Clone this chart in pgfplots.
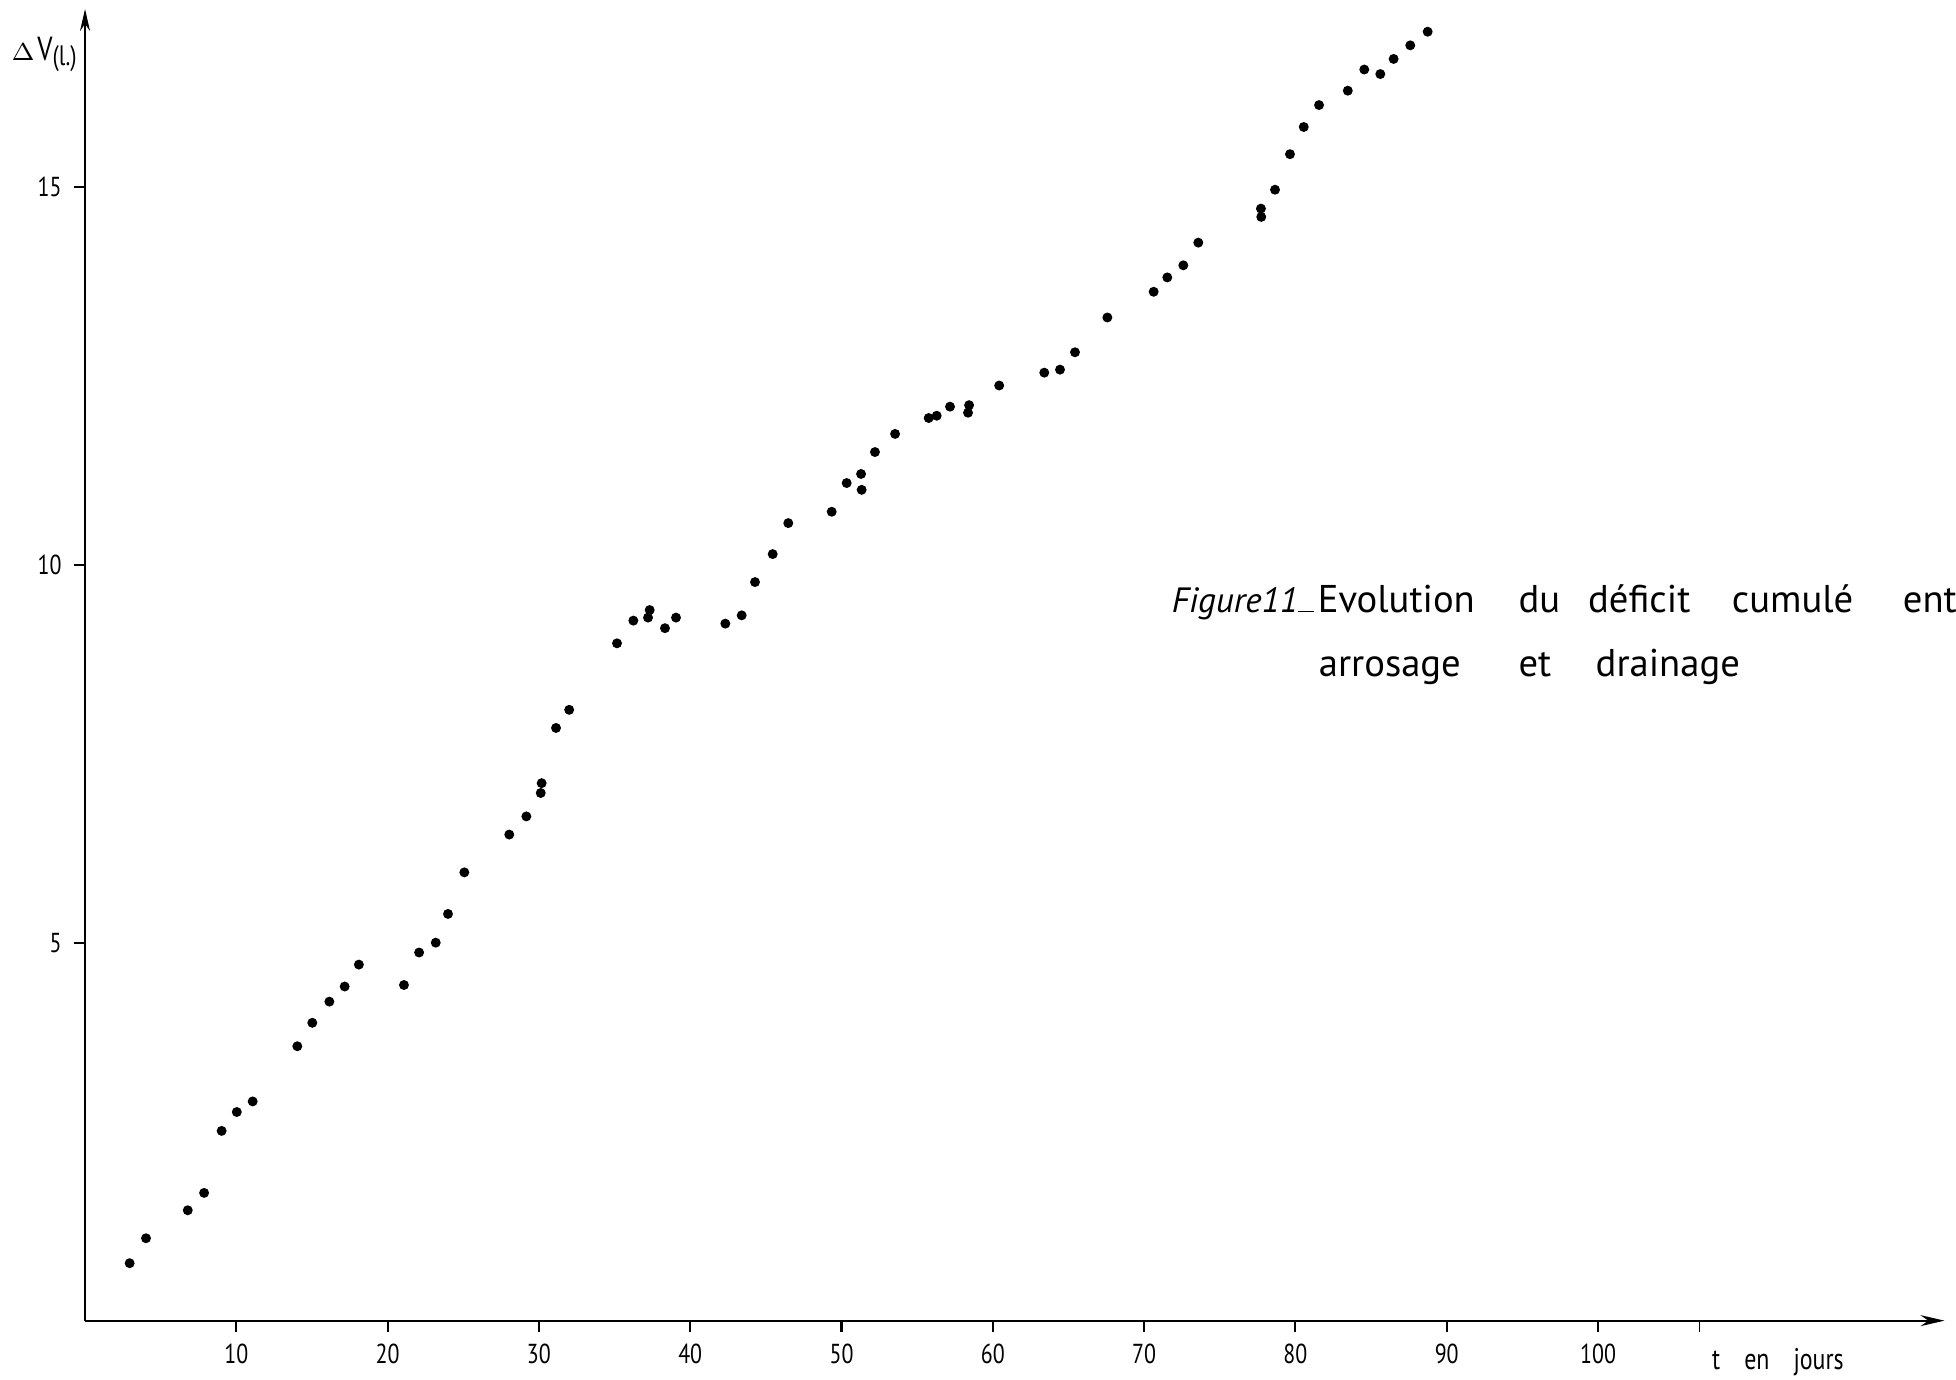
\documentclass[border=0pt]{standalone}
\usepackage{fontspec}
\setmainfont{PT Sans}
\newfontfamily\tickfont[FakeStretch=0.8]{PT Sans}
\newfontfamily\dvfont{DejaVu Sans}
\usepackage{pgfplots}
\pgfplotsset{compat=1.18}
\usetikzlibrary{arrows.meta}
\begin{document}
\begin{tikzpicture}
\begin{axis}[
  x=0.1513cm, y=0.756cm,
  xmin=0, xmax=122.9, ymin=0, ymax=17.35,
  axis lines=left,
  axis line style={line width=0.6pt},
  x axis line style={-{Stealth[length=2.4mm,width=1.1mm]}},
  y axis line style={-{Stealth[length=2.2mm,width=1mm]}},
  xtick={10,20,...,100}, ytick={5,10,15},
  extra x ticks={106.7}, extra x tick labels={},
  extra x tick style={tick style={line width=0.3pt}},
  tick align=outside, major tick length=1.1mm,
  tick style={black, line width=0.6pt},
  /pgf/number format/assume math mode=true,
  ticklabel style={font=\tickfont\fontsize{7.8}{8}\selectfont},
  clip=false,
]
\addplot[only marks, mark=*, mark size=1.2pt, black] table {
x y
2.95 0.76
4.03 1.09
6.79 1.46
7.87 1.69
9.03 2.51
10.03 2.76
11.08 2.90
14.03 3.63
15.02 3.94
16.15 4.22
17.16 4.42
18.10 4.71
21.08 4.44
22.08 4.87
23.18 5.00
23.99 5.38
25.07 5.93
28.04 6.43
29.17 6.67
30.12 6.98
30.18 7.11
31.13 7.84
32.00 8.08
35.16 8.96
36.24 9.26
37.21 9.30
37.32 9.40
38.33 9.16
39.06 9.30
42.32 9.22
43.40 9.33
44.28 9.77
45.45 10.14
46.48 10.55
49.35 10.70
50.34 11.08
51.29 11.20
51.33 10.99
52.21 11.49
53.54 11.73
55.76 11.94
56.29 11.97
57.17 12.09
58.43 12.11
58.36 12.01
60.42 12.37
63.40 12.54
64.44 12.58
65.43 12.81
67.57 13.27
70.63 13.61
71.53 13.80
72.59 13.96
73.58 14.26
77.72 14.71
77.74 14.60
78.65 14.96
79.64 15.43
80.55 15.79
81.56 16.08
83.46 16.27
84.55 16.55
85.61 16.49
86.49 16.69
87.59 16.87
88.74 17.05
};
% axis labels
\node[anchor=west, inner sep=0pt] at (axis cs:-4.9,16.75) {\dvfont\fontsize{7.5}{8}\selectfont $\Delta$\kern0.8pt\tickfont\fontsize{9.5}{10}\selectfont V\raisebox{-0.35ex}{\fontsize{8}{9}\selectfont(l.)}};
\node[anchor=base west, inner sep=0pt] at (axis cs:107.5,-0.64) {\tickfont\fontsize{8.5}{9}\selectfont t\hspace{2.4mm}en\hspace{2.4mm}jours};
% title
\node[anchor=base west, inner sep=0pt] at (axis cs:71.78,9.37) {\fontsize{10}{11}\selectfont\itshape Figure11\rule[0pt]{1.6mm}{0.5pt}};
\node[anchor=base west, inner sep=0pt] at (axis cs:81.43,9.37) {\fontsize{11}{13}\selectfont Evolution};
\node[anchor=base west, inner sep=0pt] at (axis cs:94.7,9.37) {\fontsize{11}{13}\selectfont du};
\node[anchor=base west, inner sep=0pt] at (axis cs:99.3,9.37) {\fontsize{11}{13}\selectfont déficit};
\node[anchor=base west, inner sep=0pt] at (axis cs:108.8,9.37) {\fontsize{11}{13}\selectfont cumulé};
\node[anchor=base west, inner sep=0pt] at (axis cs:120.1,9.37) {\fontsize{11}{13}\selectfont entre};
\node[anchor=base west, inner sep=0pt] at (axis cs:81.5,8.52) {\fontsize{11}{13}\selectfont arrosage};
\node[anchor=base west, inner sep=0pt] at (axis cs:94.7,8.52) {\fontsize{11}{13}\selectfont et};
\node[anchor=base west, inner sep=0pt] at (axis cs:99.8,8.52) {\fontsize{11}{13}\selectfont drainage};
\coordinate (BL) at (axis cs:-5.62,-0.78);
\coordinate (TR) at (axis cs:123.66,17.47);
\end{axis}
\pgfresetboundingbox
\path[use as bounding box] (BL) rectangle (TR);
\end{tikzpicture}
\end{document}
